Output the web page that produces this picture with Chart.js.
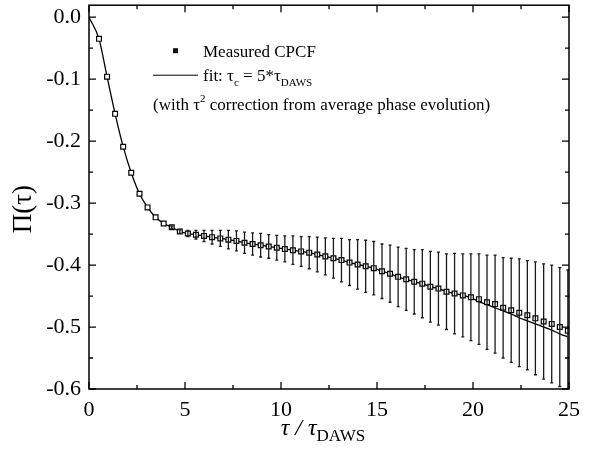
<!DOCTYPE html>
<html><head><meta charset="utf-8">
<script src="https://cdn.jsdelivr.net/npm/chart.js@4/dist/chart.umd.min.js"></script>
<style>html,body{margin:0;padding:0;background:#fff}#wrap{width:603px;height:462px}</style>
</head><body>
<div id="wrap"><canvas id="c"></canvas></div>
<script>
const tau = [0.52,0.94,1.36,1.78,2.20,2.63,3.05,3.47,3.89,4.31,4.73,5.15,5.57,5.99,6.41,6.84,7.26,7.68,8.10,8.52,8.94,9.36,9.78,10.20,10.62,11.05,11.47,11.89,12.31,12.73,13.15,13.57,13.99,14.41,14.83,15.26,15.68,16.10,16.52,16.94,17.36,17.78,18.20,18.62,19.04,19.47,19.89,20.31,20.73,21.15,21.57,21.99,22.41,22.83,23.25,23.68,24.10,24.52,24.94];
const cpcf = [-0.035,-0.096,-0.156,-0.209,-0.251,-0.285,-0.307,-0.323,-0.333,-0.339,-0.346,-0.349,-0.351,-0.353,-0.355,-0.357,-0.359,-0.361,-0.364,-0.366,-0.368,-0.370,-0.372,-0.374,-0.376,-0.378,-0.380,-0.383,-0.386,-0.389,-0.392,-0.396,-0.399,-0.402,-0.405,-0.410,-0.414,-0.419,-0.423,-0.427,-0.430,-0.435,-0.438,-0.443,-0.446,-0.449,-0.452,-0.455,-0.460,-0.463,-0.469,-0.473,-0.477,-0.481,-0.486,-0.491,-0.495,-0.500,-0.506];
const cpcfErr = [0,0,0,0,0,0,0,0,0,0.002,0.003,0.005,0.007,0.009,0.011,0.013,0.015,0.016,0.017,0.018,0.019,0.019,0.020,0.021,0.023,0.024,0.026,0.028,0.030,0.032,0.035,0.037,0.040,0.042,0.043,0.044,0.046,0.048,0.050,0.052,0.055,0.057,0.059,0.061,0.065,0.067,0.070,0.073,0.076,0.079,0.081,0.084,0.087,0.088,0.091,0.093,0.095,0.096,0.098];
const fitTau = [0.0,0.52,0.94,1.36,1.78,2.20,2.63,3.05,3.47,3.89,4.31,4.73,5.15,5.57,5.99,6.41,6.84,7.26,7.68,8.10,8.52,8.94,9.36,9.78,10.20,10.62,11.05,11.47,11.89,12.31,12.73,13.15,13.57,13.99,14.41,14.83,15.26,15.68,16.10,16.52,16.94,17.36,17.78,18.20,18.62,19.04,19.47,19.89,20.31,20.73,21.15,21.57,21.99,22.41,22.83,23.25,23.68,24.10,24.52,24.94];
const fitVal = [0.0,-0.035,-0.096,-0.156,-0.209,-0.251,-0.285,-0.307,-0.323,-0.333,-0.339,-0.346,-0.349,-0.351,-0.353,-0.355,-0.357,-0.359,-0.361,-0.364,-0.366,-0.368,-0.370,-0.372,-0.374,-0.376,-0.378,-0.380,-0.383,-0.386,-0.389,-0.392,-0.396,-0.399,-0.402,-0.405,-0.410,-0.414,-0.419,-0.423,-0.427,-0.430,-0.435,-0.438,-0.443,-0.446,-0.449,-0.453,-0.459,-0.464,-0.469,-0.474,-0.479,-0.485,-0.490,-0.495,-0.500,-0.505,-0.511,-0.516];
const xTicks = [0,5,10,15,20,25];
const xMinor = [2.5,7.5,12.5,17.5,22.5];
const yTicks = [-0.6,-0.5,-0.4,-0.3,-0.2,-0.1,0.0];
const yMinor = [-0.55,-0.45,-0.35,-0.25,-0.15,-0.05];

const SERIF = '"Liberation Serif","DejaVu Serif",serif';

function drawRich(ctx, x, y, parts) {
  let cx = x;
  for (const p of parts) {
    ctx.font = p.font;
    ctx.fillText(p.t, cx, y + (p.dy || 0));
    cx += ctx.measureText(p.t).width;
  }
  return cx;
}
function richWidth(ctx, parts) {
  let w = 0;
  for (const p of parts) { ctx.font = p.font; w += ctx.measureText(p.t).width; }
  return w;
}

const errorBars = {
  id: 'errorBars',
  afterDatasetsDraw(chart) {
    const ctx = chart.ctx, xs = chart.scales.x, ys = chart.scales.y, a = chart.chartArea;
    ctx.save();
    ctx.beginPath(); ctx.rect(a.left, a.top, a.right - a.left, a.bottom - a.top); ctx.clip();
    ctx.strokeStyle = '#1a1a1a'; ctx.lineWidth = 1.3;
    for (let i = 0; i < tau.length; i++) {
      const e = cpcfErr[i]; if (!e) continue;
      const px = xs.getPixelForValue(tau[i]);
      const y1 = ys.getPixelForValue(cpcf[i] + e), y2 = ys.getPixelForValue(cpcf[i] - e);
      ctx.beginPath();
      ctx.moveTo(px, y1); ctx.lineTo(px, y2);
      ctx.moveTo(px - 1.5, y1); ctx.lineTo(px + 1.5, y1);
      ctx.moveTo(px - 1.5, y2); ctx.lineTo(px + 1.5, y2);
      ctx.stroke();
    }
    ctx.restore();
  }
};

const frame = {
  id: 'frame',
  afterDraw(chart) {
    const ctx = chart.ctx, xs = chart.scales.x, ys = chart.scales.y, a = chart.chartArea;
    ctx.save();
    ctx.strokeStyle = '#000'; ctx.lineWidth = 1.5;
    ctx.strokeRect(a.left, a.top, a.right - a.left, a.bottom - a.top);
    ctx.lineWidth = 1.3;
    ctx.beginPath();
    const tick = (vals, len) => {
      for (const v of vals) {
        const px = xs.getPixelForValue(v);
        ctx.moveTo(px, a.bottom); ctx.lineTo(px, a.bottom - len);
        ctx.moveTo(px, a.top); ctx.lineTo(px, a.top + len);
      }
    };
    const ytick = (vals, len) => {
      for (const v of vals) {
        const py = ys.getPixelForValue(v);
        ctx.moveTo(a.left, py); ctx.lineTo(a.left + len, py);
        ctx.moveTo(a.right, py); ctx.lineTo(a.right - len, py);
      }
    };
    tick(xTicks, 7); tick(xMinor, 4); ytick(yTicks, 7); ytick(yMinor, 4);
    ctx.stroke();

    ctx.fillStyle = '#000';
    ctx.textBaseline = 'alphabetic';
    // y title
    ctx.save();
    ctx.translate(a.left - 58, (a.top + a.bottom) / 2 + 12);
    ctx.rotate(-Math.PI / 2);
    ctx.font = '27px ' + SERIF;
    ctx.textAlign = 'center';
    ctx.fillText('\u03A0(\u03C4)', 0, 0);
    ctx.restore();
    // x title
    ctx.textAlign = 'left';
    const xt = [
      {t: '\u03C4 / \u03C4', font: 'italic 24px ' + SERIF},
      {t: 'DAWS', font: '17px ' + SERIF, dy: 6}
    ];
    const w = richWidth(ctx, xt);
    drawRich(ctx, (a.left + a.right) / 2 - w / 2 - 6, a.bottom + 46, xt);

    // legend
    const lx = a.left + 64, ly = a.top + 52;
    ctx.fillStyle = '#111';
    ctx.fillRect(a.left + 84, ly - 9, 5, 5);
    ctx.strokeStyle = '#000'; ctx.lineWidth = 1;
    ctx.beginPath(); ctx.moveTo(lx, ly + 18); ctx.lineTo(lx + 45, ly + 18); ctx.stroke();
    ctx.fillStyle = '#000';
    drawRich(ctx, lx + 50, ly, [{t: 'Measured CPCF', font: '17px ' + SERIF}]);
    drawRich(ctx, lx + 50, ly + 24, [
      {t: 'fit: \u03C4', font: '17px ' + SERIF},
      {t: 'c', font: '11px ' + SERIF, dy: 5},
      {t: ' = 5*\u03C4', font: '17px ' + SERIF},
      {t: 'DAWS', font: '11px ' + SERIF, dy: 5}
    ]);
    drawRich(ctx, lx, ly + 53, [
      {t: '(with \u03C4', font: '17px ' + SERIF},
      {t: '2', font: '11px ' + SERIF, dy: -8},
      {t: ' correction from average phase evolution)', font: '17px ' + SERIF}
    ]);
    ctx.restore();
  }
};

new Chart(document.getElementById('c'), {
  type: 'scatter',
  data: {
    datasets: [
      {
        label: 'Measured CPCF',
        data: tau.map((t, i) => ({x: t, y: cpcf[i]})),
        pointStyle: 'rect', pointRadius: 3.4, pointBorderWidth: 1.2,
        pointBorderColor: '#000', pointBackgroundColor: '#fff', showLine: false, order: 1
      },
      {
        label: 'fit',
        data: fitTau.map((t, i) => ({x: t, y: fitVal[i]})),
        showLine: true, pointRadius: 0, borderColor: '#000', borderWidth: 1.3,
        cubicInterpolationMode: 'monotone', order: 2
      }
    ]
  },
  options: {
    responsive: true, maintainAspectRatio: false, animation: false,
    layout: {padding: {left: 0, right: 34, top: 4, bottom: 0}},
    plugins: {legend: {display: false}, tooltip: {enabled: false}},
    scales: {
      x: {
        type: 'linear', min: 0, max: 25,
        grid: {display: false, drawTicks: false}, border: {display: false},
        afterBuildTicks: s => { s.ticks = xTicks.map(v => ({value: v})); },
        afterFit: s => { s.height = 73; s.paddingLeft = 0; s.paddingRight = 0; },
        ticks: {color: '#000', padding: 8, maxRotation: 0, font: {family: SERIF, size: 22},
          callback: v => String(v)}
      },
      y: {
        type: 'linear', min: -0.6, max: 0.0193,
        grid: {display: false, drawTicks: false}, border: {display: false},
        afterBuildTicks: s => { s.ticks = yTicks.map(v => ({value: v})); },
        afterFit: s => { s.width = 89; s.paddingTop = 0; s.paddingBottom = 0; },
        ticks: {color: '#000', padding: 8, font: {family: SERIF, size: 22},
          callback: v => (Math.abs(v) < 1e-9 ? '0.0' : v.toFixed(1))}
      }
    }
  },
  plugins: [errorBars, frame]
});
</script>
</body></html>
